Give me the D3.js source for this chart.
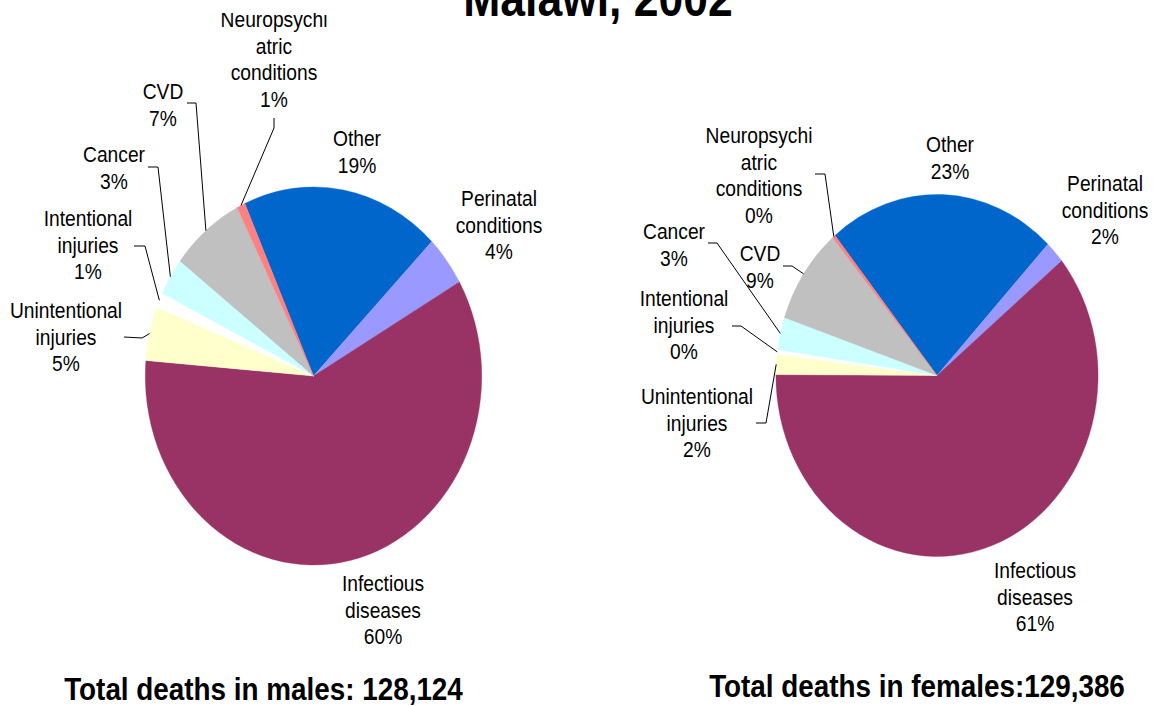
<!DOCTYPE html>
<html>
<head>
<meta charset="utf-8">
<script src="https://cdn.jsdelivr.net/npm/d3@7"></script>
<style>
  body { margin: 0; background: #fff; }
  text { font-family: "Liberation Sans", Arial, sans-serif; fill: #000; }
</style>
</head>
<body>
<script>
// chart data
const categories = [
  "Other",
  "Perinatal conditions",
  "Infectious diseases",
  "Unintentional injuries",
  "Intentional injuries",
  "Cancer",
  "CVD",
  "Neuropsychiatric conditions",
];
// wrapped as in the original labels
const labelLines = [
  ["Other"],
  ["Perinatal", "conditions"],
  ["Infectious", "diseases"],
  ["Unintentional", "injuries"],
  ["Intentional", "injuries"],
  ["Cancer"],
  ["CVD"],
  ["Neuropsychi", "atric", "conditions"],
];
const maleValues = [19.1, 4.3, 59.6, 4.6, 1.3, 3.2, 7.1, 0.8];
const femaleValues = [23.0, 2.0, 61.0, 1.8, 0.4, 2.9, 8.6, 0.3];
const sliceColors = [
  "#0066cc",
  "#9999ff",
  "#993366",
  "#ffffcc",
  "#ffffff",
  "#ccffff",
  "#c0c0c0",
  "#ff8080",
];
const title = "Malawi, 2002";
const maleFooter = "Total deaths in males: 128,124";
const femaleFooter = "Total deaths in females:129,386";

let width = 1154;
let height = 706;
let sx = 0.89; // the original is squeezed horizontally
let lineH = 26.7;

// layout of each pie: centre, radius, rotation, label anchors, leader elbows
const pies = [
  {
    values: maleValues,
    cx: 313.5,
    cy: 376,
    r: 189,
    start: -24.1,
    labels: [
      [357, 146], [499, 206], [383, 591], [66, 318],
      [88, 226], [114, 162], [163, 99], [274, 27],
    ],
    leaders: [
      null, null, null,
      [[124, 337], [142, 338]],
      [[134, 246], [145, 246]],
      [[148, 167], [158, 167]],
      [[187, 103], [196, 103]],
      [[274, 118], [274, 128]],
    ],
    footer: maleFooter,
    footerX: 263.5,
    footerY: 700,
  },
  {
    values: femaleValues,
    cx: 937,
    cy: 375.5,
    r: 181,
    start: -39.3,
    labels: [
      [950, 152], [1105, 191], [1035, 578], [697, 404],
      [684, 306], [674, 239], [760, 261], [759, 143],
    ],
    leaders: [
      null, null, null,
      [[756, 423], [766, 423]],
      [[732, 326], [741, 326]],
      [[708, 243], [717, 243]],
      [[783, 266], [792, 266]],
      [[815, 174], [825, 174]],
    ],
    footer: femaleFooter,
    footerX: 917,
    footerY: 697,
  },
];

let svg = d3
  .select("body")
  .append("svg")
  .attr("width", width)
  .attr("height", height);

pies.forEach((p) => {
  let a0 = (p.start * Math.PI) / 180;
  let pie = d3
    .pie()
    .sort(null)
    .value((d) => d)
    .startAngle(a0)
    .endAngle(a0 + 2 * Math.PI);
  let arcs = pie(p.values);
  let total = d3.sum(p.values);

  let arc = d3.arc().innerRadius(0).outerRadius(p.r);

  let g = svg
    .append("g")
    .attr("transform", "translate(" + p.cx + "," + p.cy + ") scale(" + sx + ",1)");

  g.selectAll("path")
    .data(arcs)
    .enter()
    .append("path")
    .attr("d", arc)
    .attr("fill", (d, i) => sliceColors[i])
    .attr("stroke", (d, i) => sliceColors[i])
    .attr("stroke-width", 0.4);

  // leader lines end on the rim at the middle of the slice
  arcs.forEach((d, i) => {
    let l = p.leaders[i];
    if (!l) return;
    let a = (d.startAngle + d.endAngle) / 2;
    let ex = p.cx + sx * p.r * Math.sin(a);
    let ey = p.cy - p.r * Math.cos(a);
    svg
      .append("polyline")
      .attr("points", [l[0], l[1], [ex, ey]].map((q) => q.join(",")).join(" "))
      .attr("fill", "none")
      .attr("stroke", "#000")
      .attr("stroke-width", 1);
  });

  // labels
  arcs.forEach((d, i) => {
    let pos = p.labels[i];
    let lines = labelLines[i].concat([Math.round((d.data / total) * 100) + "%"]);
    let t = svg
      .append("text")
      .attr("transform", "translate(" + pos[0] + "," + pos[1] + ") scale(" + sx + ",1)")
      .attr("text-anchor", "middle")
      .style("font-size", "21.6px");
    t.selectAll("tspan")
      .data(lines)
      .enter()
      .append("tspan")
      .attr("x", 0)
      .attr("y", (s, j) => j * lineH)
      .text((s) => s);
  });

  svg
    .append("text")
    .attr("transform", "translate(" + p.footerX + "," + p.footerY + ") scale(" + sx + ",1)")
    .attr("text-anchor", "middle")
    .style("font-size", "31.3px")
    .style("font-weight", "bold")
    .text(p.footer);
});

// title box hides the top of the first label, as in the original
svg
  .append("rect")
  .attr("x", 160)
  .attr("y", 0)
  .attr("width", 840)
  .attr("height", 13)
  .attr("fill", "#fff");

svg
  .append("text")
  .attr("transform", "translate(598,16) scale(" + sx + ",1)")
  .attr("text-anchor", "middle")
  .style("font-size", "50px")
  .style("font-weight", "bold")
  .text(title);
</script>
</body>
</html>
